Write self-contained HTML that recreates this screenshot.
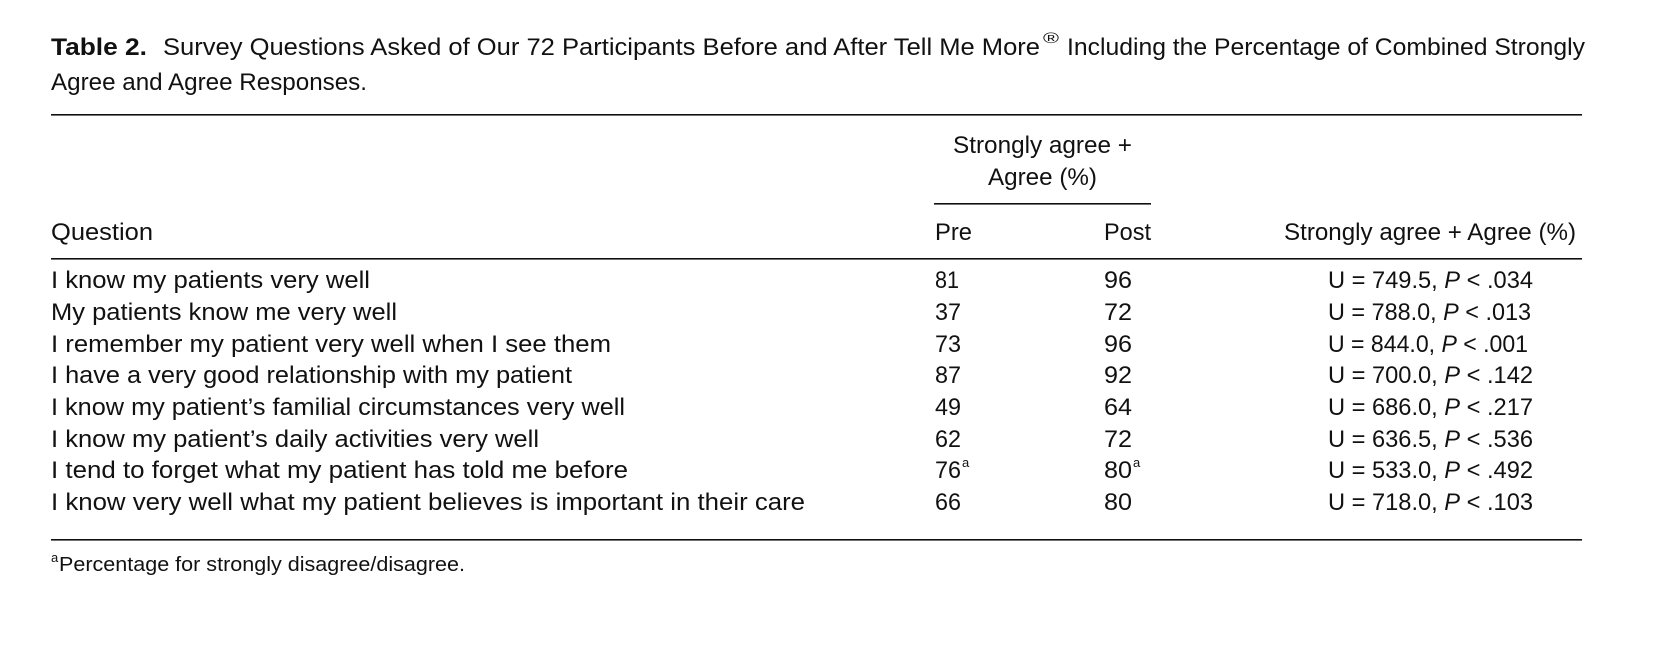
<!DOCTYPE html>
<html><head><meta charset="utf-8"><style>
html,body{margin:0;padding:0;background:#fff;}
svg{display:block;}
text{font-family:"Liberation Sans",sans-serif;fill:#111;font-size:24px;}
</style></head><body>
<svg width="1660" height="658" viewBox="0 0 1660 658" xmlns="http://www.w3.org/2000/svg">
<text x="51" y="55" font-weight="bold" textLength="96" lengthAdjust="spacingAndGlyphs">Table 2.</text>
<text x="163" y="55" textLength="877" lengthAdjust="spacingAndGlyphs">Survey Questions Asked of Our 72 Participants Before and After Tell Me More</text>
<text x="1043" y="43" style="font-size:15px" textLength="16" lengthAdjust="spacingAndGlyphs">®</text>
<text x="1067" y="55" textLength="518" lengthAdjust="spacingAndGlyphs">Including the Percentage of Combined Strongly</text>
<text x="51" y="90" textLength="316" lengthAdjust="spacingAndGlyphs">Agree and Agree Responses.</text>
<rect x="51" y="114" width="1531" height="1.6" fill="#111"/>
<text x="953" y="153" textLength="179" lengthAdjust="spacingAndGlyphs">Strongly agree +</text>
<text x="988" y="185" textLength="109" lengthAdjust="spacingAndGlyphs">Agree (%)</text>
<rect x="934" y="203" width="217" height="1.6" fill="#111"/>
<text x="51" y="240" textLength="102" lengthAdjust="spacingAndGlyphs">Question</text>
<text x="935" y="240" textLength="37" lengthAdjust="spacingAndGlyphs">Pre</text>
<text x="1104" y="240" textLength="47" lengthAdjust="spacingAndGlyphs">Post</text>
<text x="1284" y="240" textLength="292" lengthAdjust="spacingAndGlyphs">Strongly agree + Agree (%)</text>
<rect x="51" y="258" width="1531" height="1.6" fill="#111"/>
<g>
<text x="51" y="288" textLength="319" lengthAdjust="spacingAndGlyphs">I know my patients very well</text>
<text x="51" y="320" textLength="346" lengthAdjust="spacingAndGlyphs">My patients know me very well</text>
<text x="51" y="352" textLength="560" lengthAdjust="spacingAndGlyphs">I remember my patient very well when I see them</text>
<text x="51" y="383" textLength="521" lengthAdjust="spacingAndGlyphs">I have a very good relationship with my patient</text>
<text x="51" y="415" textLength="574" lengthAdjust="spacingAndGlyphs">I know my patient’s familial circumstances very well</text>
<text x="51" y="447" textLength="488" lengthAdjust="spacingAndGlyphs">I know my patient’s daily activities very well</text>
<text x="51" y="478" textLength="577" lengthAdjust="spacingAndGlyphs">I tend to forget what my patient has told me before</text>
<text x="51" y="510" textLength="754" lengthAdjust="spacingAndGlyphs">I know very well what my patient believes is important in their care</text>
</g>
<g>
<text x="935" y="288" textLength="24" lengthAdjust="spacingAndGlyphs">81</text>
<text x="935" y="320" textLength="26" lengthAdjust="spacingAndGlyphs">37</text>
<text x="935" y="352" textLength="26" lengthAdjust="spacingAndGlyphs">73</text>
<text x="935" y="383" textLength="26" lengthAdjust="spacingAndGlyphs">87</text>
<text x="935" y="415" textLength="26" lengthAdjust="spacingAndGlyphs">49</text>
<text x="935" y="447" textLength="26" lengthAdjust="spacingAndGlyphs">62</text>
<text x="935" y="478" textLength="26" lengthAdjust="spacingAndGlyphs">76</text>
<text x="962" y="467" style="font-size:13px">a</text>
<text x="935" y="510" textLength="26" lengthAdjust="spacingAndGlyphs">66</text>
<text x="1104" y="288" textLength="28" lengthAdjust="spacingAndGlyphs">96</text>
<text x="1104" y="320" textLength="28" lengthAdjust="spacingAndGlyphs">72</text>
<text x="1104" y="352" textLength="28" lengthAdjust="spacingAndGlyphs">96</text>
<text x="1104" y="383" textLength="28" lengthAdjust="spacingAndGlyphs">92</text>
<text x="1104" y="415" textLength="28" lengthAdjust="spacingAndGlyphs">64</text>
<text x="1104" y="447" textLength="28" lengthAdjust="spacingAndGlyphs">72</text>
<text x="1104" y="478" textLength="28" lengthAdjust="spacingAndGlyphs">80</text>
<text x="1133" y="467" style="font-size:13px">a</text>
<text x="1104" y="510" textLength="28" lengthAdjust="spacingAndGlyphs">80</text>
</g>
<g>
<text x="1328" y="288" textLength="205" lengthAdjust="spacingAndGlyphs">U = 749.5, <tspan font-style="italic">P</tspan> &lt; .034</text>
<text x="1328" y="320" textLength="203" lengthAdjust="spacingAndGlyphs">U = 788.0, <tspan font-style="italic">P</tspan> &lt; .013</text>
<text x="1328" y="352" textLength="200" lengthAdjust="spacingAndGlyphs">U = 844.0, <tspan font-style="italic">P</tspan> &lt; .001</text>
<text x="1328" y="383" textLength="205" lengthAdjust="spacingAndGlyphs">U = 700.0, <tspan font-style="italic">P</tspan> &lt; .142</text>
<text x="1328" y="415" textLength="205" lengthAdjust="spacingAndGlyphs">U = 686.0, <tspan font-style="italic">P</tspan> &lt; .217</text>
<text x="1328" y="447" textLength="205" lengthAdjust="spacingAndGlyphs">U = 636.5, <tspan font-style="italic">P</tspan> &lt; .536</text>
<text x="1328" y="478" textLength="205" lengthAdjust="spacingAndGlyphs">U = 533.0, <tspan font-style="italic">P</tspan> &lt; .492</text>
<text x="1328" y="510" textLength="205" lengthAdjust="spacingAndGlyphs">U = 718.0, <tspan font-style="italic">P</tspan> &lt; .103</text>
</g>
<rect x="51" y="539" width="1531" height="1.6" fill="#111"/>
<text x="51" y="562" style="font-size:13px">a</text>
<text x="59" y="571" style="font-size:20px" textLength="406" lengthAdjust="spacingAndGlyphs">Percentage for strongly disagree/disagree.</text>
</svg>
</body></html>
